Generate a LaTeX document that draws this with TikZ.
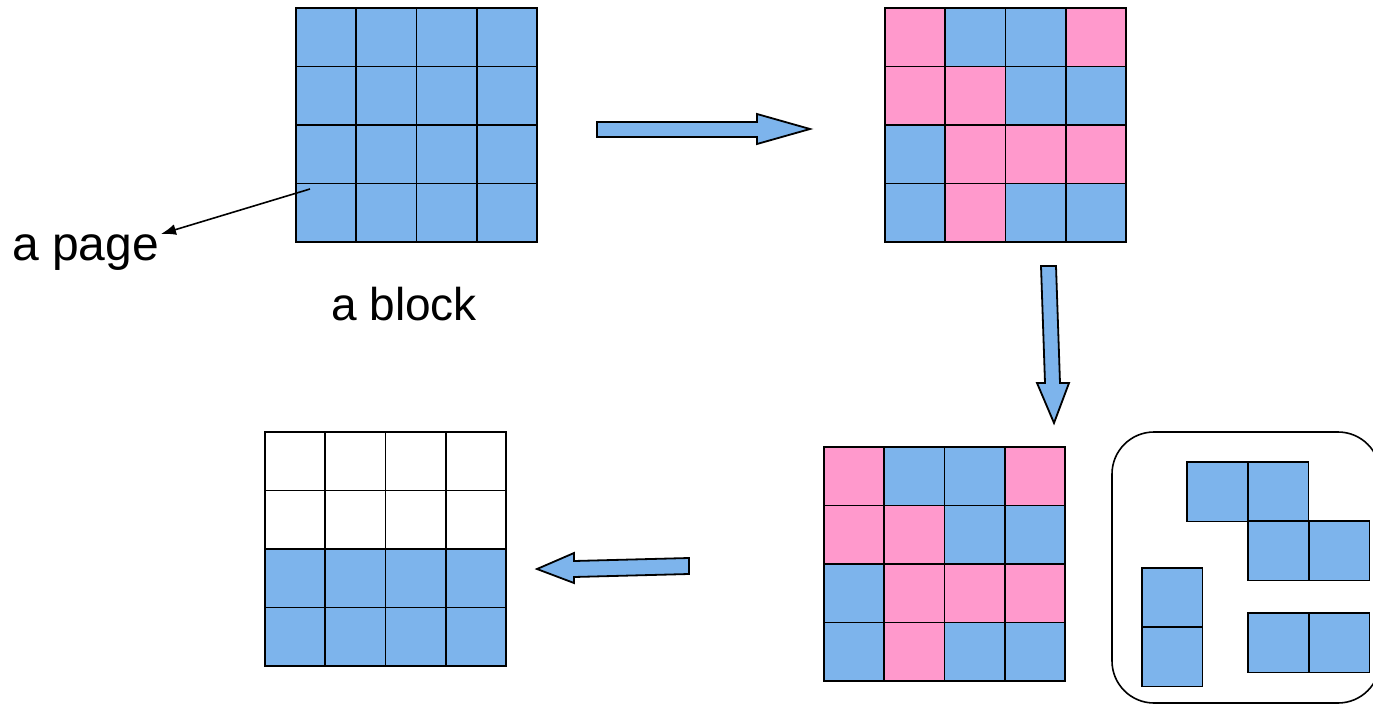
\documentclass[tikz,border=0pt]{standalone}
\usepackage{fontspec}
\setmainfont{Liberation Sans}
\usetikzlibrary{arrows.meta}
\definecolor{cblue}{RGB}{125,180,236}
\definecolor{cpink}{RGB}{255,153,204}
\newcommand\mygrid[4]{%
  \foreach \c [count=\i from 0] in {#4} {
    \pgfmathtruncatemacro\rr{\i/4}
    \pgfmathtruncatemacro\cc{mod(\i,4)}
    \node[cell,fill=\c] (#1-\rr-\cc) at ({#2+\cc*60.25},{#3+\rr*58.5}) {};
  }%
  \foreach \rr in {0,...,3} {
    \foreach \cc in {0,...,3} {
      \draw[gridline] (#1-\rr-\cc.north west) rectangle (#1-\rr-\cc.south east);
    }
  }%
}
\begin{document}
\begin{tikzpicture}[x=1pt,y=-1pt,
  cell/.style={rectangle,inner sep=0pt,outer sep=0pt,
    minimum width=60.25pt,minimum height=58.5pt,anchor=north west},
  gridline/.style={draw=black,line width=1.9pt},
  piece/.style={cell,draw=black,line width=1.9pt,fill=cblue,minimum width=60.5pt,minimum height=59.5pt},
  bigarrow/.style={draw=black,line width=1.8pt,fill=cblue,line join=miter},
  lbl/.style={font=\fontsize{46}{55}\selectfont,inner sep=0pt,anchor=base west},
  frame/.style={draw=black,line width=1.6pt,rounded corners=42pt}]
\useasboundingbox (0,0) rectangle (1373,704);
% grids
\mygrid{ga}{296}{8}{cblue,cblue,cblue,cblue,cblue,cblue,cblue,cblue,cblue,cblue,cblue,cblue,cblue,cblue,cblue,cblue}
\mygrid{gb}{885}{8}{cpink,cblue,cblue,cpink,cpink,cpink,cblue,cblue,cblue,cpink,cpink,cpink,cblue,cpink,cblue,cblue}
\mygrid{gc}{824}{447}{cpink,cblue,cblue,cpink,cpink,cpink,cblue,cblue,cblue,cpink,cpink,cpink,cblue,cpink,cblue,cblue}
\mygrid{gd}{265}{432}{white,white,white,white,white,white,white,white,cblue,cblue,cblue,cblue,cblue,cblue,cblue,cblue}
% frame with pieces
\draw[frame] (1112,432) rectangle (1380,703);
\node[piece] (p1) at (1187,462) {};
\node[piece] (p2) at (1248,462) {};
\node[piece] (p3) at (1248,521) {};
\node[piece] (p4) at (1309,521) {};
\node[piece] (p5) at (1142,568) {};
\node[piece] (p6) at (1142,627) {};
\node[piece] (p7) at (1248,613) {};
\node[piece] (p8) at (1309,613) {};
% block arrows
\draw[bigarrow] (597,122) -- (757,122) -- (757,114) -- (810,129) -- (757,144) -- (757,137) -- (597,137) -- cycle;
\draw[bigarrow] (1041,266) -- (1056,266) -- (1060,383) -- (1069,383) -- (1054,423) -- (1037,383) -- (1045,383) -- cycle;
\draw[bigarrow] (689,558) -- (689,574) -- (574,577) -- (574,583) -- (537,569) -- (574,553) -- (574,561) -- cycle;
% labels
\node[lbl,font=\fontsize{48}{58}\selectfont] (page) at (12,260) {a page};
\node[lbl] (block) at (331,320) {a block};
\coordinate (pagefrom) at (310,189);
\coordinate (pagetip) at (161,234);
\draw[line width=1.6pt,-{Latex[length=15pt,width=11pt]}] (pagefrom) -- (pagetip);
\end{tikzpicture}
\end{document}
